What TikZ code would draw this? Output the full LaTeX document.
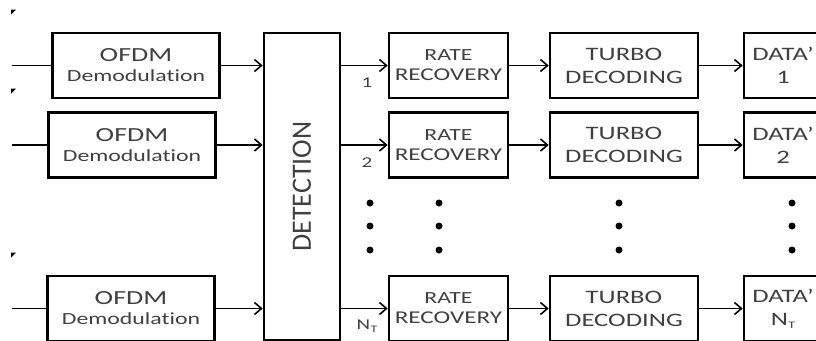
\documentclass[tikz,border=0pt]{standalone}
\usepackage{fontspec}
\newfontfamily\blockfont[FakeStretch=1.4,Ligatures=NoCommon]{Carlito}
\usetikzlibrary{arrows.meta,positioning}
\newcommand{\NT}{N\kern0.3pt\raisebox{-0.35ex}{\fontsize{10}{10}\selectfont T}}

\begin{document}
\begin{tikzpicture}[x=1pt, y=-1pt,
  blk/.style={draw, line width=2.6pt, inner sep=0pt, align=center, minimum height=65pt,
    text=black!75},
  conn/.style={line width=1.8pt, -{Straight Barb[length=7pt,width=12pt,line width=1.6pt]}},
  lbl/.style={text=black!75, font=\blockfont\fontsize{15}{15}\selectfont}]
\useasboundingbox (0,0) rectangle (816,340);
\clip (0,0) rectangle (816,340);

% detection block
\node[blk, minimum width=76pt, minimum height=307pt] (det) at (302,186.5)
  {\rotatebox{90}{\scalebox{1}[1.4]{\blockfont\fontsize{20}{20}\selectfont DETECTION}}};

% one chain per transmit stream
\foreach \r/\y/\ox/\lab in {1/65.5/136/1, 2/145/132/2, 3/308.5/131/\NT}{
  \node[blk, minimum width=167pt, font=\blockfont\fontsize{20}{20}\selectfont] (ofdm\r) at (\ox,\y)
    {OFDM\\{\fontsize{17}{19}\selectfont Demodulation}};
  \node[blk, minimum width=119pt, font=\blockfont\fontsize{18}{20}\selectfont] (rate\r) at (448.5,\y)
    {{\fontsize{17}{20}\selectfont RATE}\\RECOVERY};
  \node[blk, minimum width=148pt, font=\blockfont\fontsize{19}{23}\selectfont] (turbo\r) at (624,\y)
    {TURBO\\DECODING};
  \node[blk, minimum width=78pt, font=\blockfont\fontsize{19}{23}\selectfont] (data\r) at (783,\y)
    {DATA’\\\lab};
  \coordinate (in\r) at (12,\y);
  \draw[line width=1.8pt] (in\r) -- (ofdm\r.west);
  \draw[conn] (ofdm\r.east) -- (ofdm\r.east -| det.west);
  \draw[conn] (rate\r.west -| det.east) -- (rate\r.west);
  \draw[conn] (rate\r.east) -- (turbo\r.west);
  \draw[conn] (turbo\r.east) -- (data\r.west);
  \node[lbl] at (367,\y+17.5) {\lab};
}

% continuation dots
\foreach \x in {370,439,619,792}{
  \foreach \y in {203,226,250}{
    \fill (\x,\y) circle (3.5pt);
  }
}

% small marks at the left edge
\foreach \y in {12,91,255}{
  \fill (11,\y-2.5) -- (16,\y-2.5) -- (11,\y+2.5) -- cycle;
}
\end{tikzpicture}
\end{document}
